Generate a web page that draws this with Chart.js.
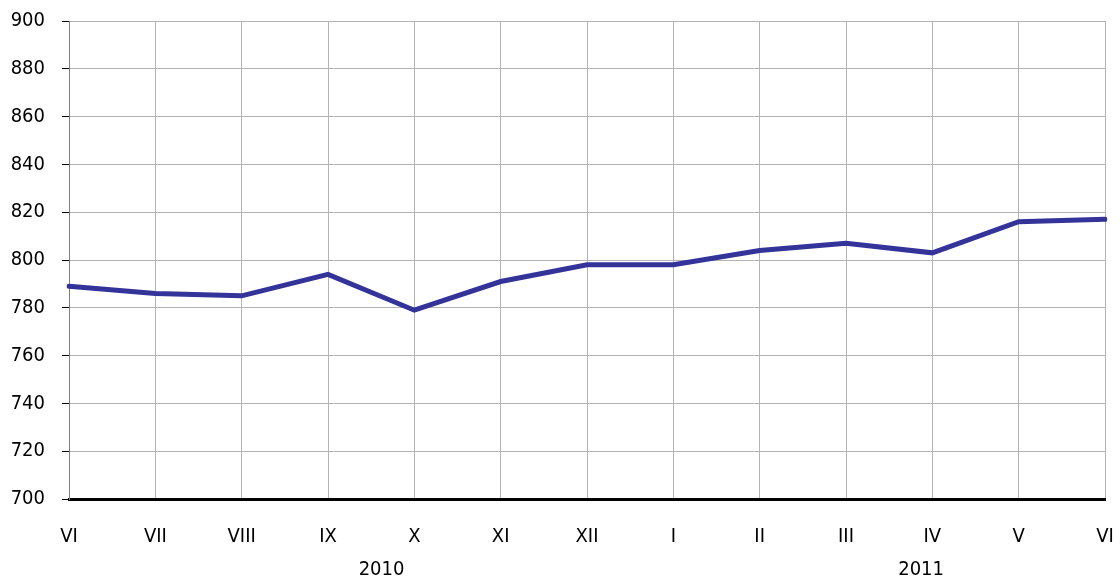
<!DOCTYPE html>
<html>
<head>
<meta charset="utf-8">
<script src="https://cdn.jsdelivr.net/npm/chart.js@4"></script>
<style>
html,body{margin:0;padding:0;background:#fff;}
#wrap{width:1120px;height:579px;position:relative;}
</style>
</head>
<body>
<div id="wrap"><canvas id="c" width="1120" height="579"></canvas></div>
<script>
const categories = ['VI','VII','VIII','IX','X','XI','XII','I','II','III','IV','V','VI'];
const values = [789, 786, 785, 794, 779, 791, 798, 798, 804, 807, 803, 816, 817];
const yearLabels = ['2010', '2011'];
const yearPositions = [3.62, 9.87];
const yMin = 700, yMax = 900, yStep = 20;

const FONT = '"DejaVu Sans Condensed", "DejaVu Sans", sans-serif';

const yearPlugin = {
  id: 'yearLabels',
  afterDraw(chart) {
    const ctx = chart.ctx;
    const xs = chart.scales.x;
    ctx.save();
    ctx.font = '20px ' + FONT;
    ctx.fillStyle = '#000';
    ctx.textAlign = 'center';
    ctx.textBaseline = 'middle';
    yearLabels.forEach((t, i) => {
      ctx.fillText(t, xs.getPixelForValue(yearPositions[i]), 570);
    });
    ctx.restore();
  }
};

new Chart(document.getElementById('c'), {
  type: 'line',
  data: {
    labels: categories,
    datasets: [{
      data: values,
      borderColor: '#333399',
      borderWidth: 5,
      borderCapStyle: 'round',
      pointRadius: 0,
      tension: 0,
      fill: false
    }]
  },
  options: {
    responsive: false,
    animation: false,
    devicePixelRatio: 1,
    layout: { padding: { left: 10, top: 0, right: 0, bottom: 29 } },
    plugins: { legend: { display: false }, tooltip: { enabled: false } },
    scales: {
      x: {
        offset: false,
        grid: { color: '#b4b4b4', lineWidth: 1, drawTicks: false },
        border: { color: '#000', width: 3 },
        ticks: { font: { family: FONT, size: 20 }, color: '#000', padding: 26, autoSkip: false, maxRotation: 0 },
        afterFit(s) { s.height = 51; s.paddingRight = 15; s.paddingLeft = 0; }
      },
      y: {
        min: yMin, max: yMax,
        grid: { color: '#b4b4b4', lineWidth: 1, tickLength: 7, tickColor: '#000' },
        border: { color: '#808080', width: 1 },
        ticks: { stepSize: yStep, font: { family: FONT, size: 20 }, color: '#000', padding: 17 },
        afterFit(s) { s.width = 59; s.paddingTop = 21; s.paddingBottom = 0; }
      }
    }
  },
  plugins: [yearPlugin]
});
</script>
</body>
</html>
